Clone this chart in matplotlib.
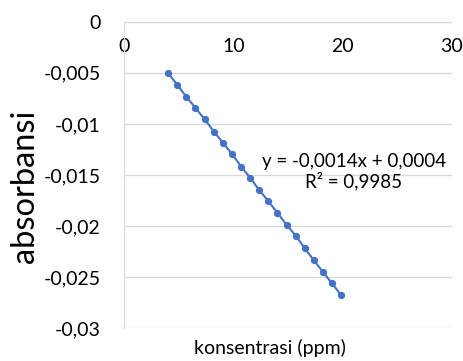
import numpy as np
import matplotlib
matplotlib.use('Agg')
import matplotlib.pyplot as plt
from matplotlib.ticker import FuncFormatter

plt.rcParams['font.family'] = ['Lato', 'DejaVu Sans']

# data
konsentrasi = [4.03, 4.85, 5.68, 6.50, 7.36, 8.21, 9.07, 9.89, 10.71, 11.51,
               12.36, 13.19, 14.01, 14.87, 15.72, 16.52, 17.34, 18.17, 19.02, 19.84]
absorbansi = [-0.00505, -0.00619, -0.00734, -0.00842, -0.00955, -0.01076, -0.0119,
              -0.01297, -0.01419, -0.01526, -0.01647, -0.01757, -0.01869, -0.01989,
              -0.02097, -0.02217, -0.02332, -0.02446, -0.0256, -0.02674]
persamaan = 'y = -0,0014x + 0,0004'
r_kuadrat = 'R² = 0,9985'
x_ticks = [0, 10, 20, 30]
y_ticks = [0, -0.005, -0.01, -0.015, -0.02, -0.025, -0.03]

biru = '#4472C4'
abu = '#D9D9D9'

fig = plt.figure(figsize=(4.63, 3.61), dpi=100)
ax = fig.add_axes([0.2685, 0.0906, 0.7075, 0.8493])

ax.plot(konsentrasi, absorbansi, '-o', color=biru, lw=1.5, ms=4.2, zorder=3)

ax.set_xlim(0, 30)
ax.set_ylim(-0.03, 0)
ax.set_xticks(x_ticks)
ax.set_yticks(y_ticks)

# pakai koma sebagai pemisah desimal
koma = lambda v, pos: ('%g' % v).replace('.', ',')
ax.xaxis.set_major_formatter(FuncFormatter(koma))
ax.yaxis.set_major_formatter(FuncFormatter(koma))

ax.grid(axis='y', color=abu, lw=1)
ax.set_axisbelow(True)
for s in ['right', 'bottom', 'top']:
    ax.spines[s].set_visible(False)
ax.spines['left'].set_color(abu)

ax.xaxis.set_ticks_position('top')
ax.tick_params(axis='x', length=0, pad=-24, labelsize=14)
ax.tick_params(axis='y', length=0, pad=17, labelsize=14)

ax.text(21.0, -0.01466, persamaan + '\n' + r_kuadrat, ha='center', va='center',
        fontsize=13.5, linespacing=1.15)

fig.text(270 / 463, 1 - 348 / 361, 'konsentrasi (ppm)', ha='center', va='center', fontsize=14)
fig.text(25 / 463, 1 - 186 / 361, 'absorbansi', ha='center', va='center', rotation=90, fontsize=23.5)

fig.savefig('out.png', dpi=100)
